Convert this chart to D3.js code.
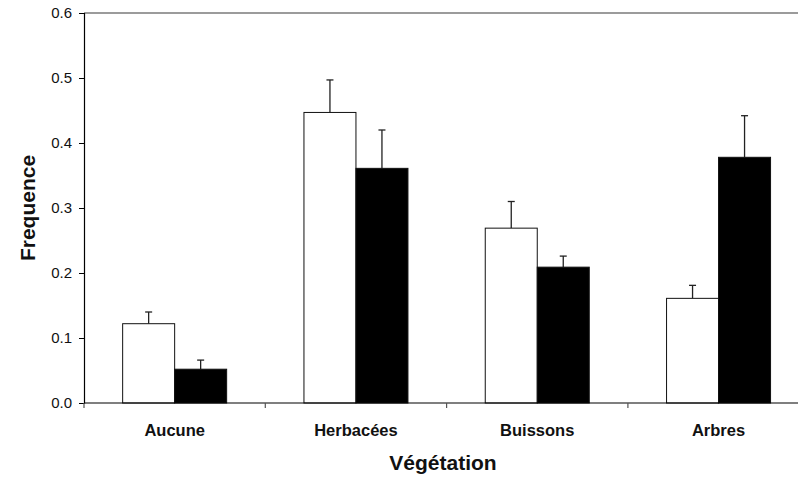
<!DOCTYPE html>
<html>
<head>
<meta charset="utf-8">
<script src="https://cdn.jsdelivr.net/npm/d3@7/dist/d3.min.js"></script>
<style>
  html, body { margin: 0; padding: 0; background: #fff; }
  svg { display: block; font-family: "Liberation Sans", Arial, sans-serif; }
</style>
</head>
<body>
<svg id="chart" width="798" height="481"></svg>
<script>
// Vegetation categories and the two series (means with standard errors)
const categories = ["Aucune", "Herbacées", "Buissons", "Arbres"];
const seriesWhite = [0.122, 0.447, 0.269, 0.161];
const errorWhite  = [0.018, 0.050, 0.041, 0.020];
const seriesBlack = [0.052, 0.361, 0.209, 0.378];
const errorBlack  = [0.014, 0.059, 0.017, 0.064];
const yTicks = [0.0, 0.1, 0.2, 0.3, 0.4, 0.5, 0.6];

const svg = d3.select("#chart");
const plotLeft = 84, plotTop = 13, plotBottom = 403;
const bandW = 181.3;
const plotRight = plotLeft + bandW * categories.length;

const x = d3.scaleBand().domain(categories).range([plotLeft, plotRight]).paddingInner(0).paddingOuter(0);
const y = d3.scaleLinear().domain([0, 0.6]).range([plotBottom, plotTop]);

const series = [
  { values: seriesWhite, errors: errorWhite, fill: "#fff" },
  { values: seriesBlack, errors: errorBlack, fill: "#000" }
];
const barW = 52;

const data = [];
categories.forEach((c, i) => {
  series.forEach((s, j) => {
    data.push({ cat: c, v: s.values[i], e: s.errors[i], fill: s.fill, j });
  });
});
const barX = d => x(d.cat) + x.bandwidth() / 2 - barW + d.j * barW;

// Error bars (upper only) drawn first so bars sit on top
const err = svg.append("g").attr("stroke", "#222").attr("stroke-width", 1.3);
data.forEach(d => {
  const cx = barX(d) + barW / 2;
  err.append("line").attr("x1", cx).attr("x2", cx).attr("y1", y(d.v)).attr("y2", y(d.v + d.e));
  err.append("line").attr("x1", cx - 3.5).attr("x2", cx + 3.5).attr("y1", y(d.v + d.e)).attr("y2", y(d.v + d.e));
});

// Bars
svg.append("g").selectAll("rect").data(data).join("rect")
  .attr("x", d => barX(d))
  .attr("y", d => y(d.v))
  .attr("width", barW)
  .attr("height", d => y(0) - y(d.v))
  .attr("fill", d => d.fill)
  .attr("stroke", "#111")
  .attr("stroke-width", 1);

// Top frame line
svg.append("line").attr("x1", plotLeft).attr("x2", 798).attr("y1", y(0.6)).attr("y2", y(0.6))
  .attr("stroke", "#7a7a7a").attr("stroke-width", 1.6);

// Y axis
const yAxis = d3.axisLeft(y).tickValues(yTicks).tickFormat(d3.format(".1f")).tickSize(5).tickPadding(7);
const gy = svg.append("g").attr("transform", `translate(${plotLeft},0)`).call(yAxis);
gy.select(".domain").attr("stroke", "#000").attr("stroke-width", 1.2);
gy.selectAll(".tick line").attr("stroke", "#000");
gy.selectAll(".tick text").attr("font-size", 15).attr("fill", "#111")
  .attr("font-family", "Liberation Sans, Arial, sans-serif");

// X axis: ticks at group boundaries, labels centered under each group
svg.append("line").attr("x1", plotLeft).attr("x2", plotRight).attr("y1", plotBottom).attr("y2", plotBottom)
  .attr("stroke", "#000").attr("stroke-width", 1.2);
const bounds = d3.range(categories.length + 1).map(i => plotLeft + i * x.bandwidth());
svg.append("g").selectAll("line").data(bounds).join("line")
  .attr("x1", d => d).attr("x2", d => d).attr("y1", plotBottom).attr("y2", plotBottom + 5)
  .attr("stroke", "#555").attr("stroke-width", 1.2);
svg.append("g").selectAll("text").data(categories).join("text")
  .attr("x", d => x(d) + x.bandwidth() / 2)
  .attr("y", 436)
  .attr("text-anchor", "middle")
  .attr("font-size", 16.5).attr("font-weight", "bold").attr("fill", "#111")
  .text(d => d);

// Axis titles
svg.append("text").attr("x", 443).attr("y", 470).attr("text-anchor", "middle")
  .attr("font-size", 21).attr("font-weight", "bold").attr("fill", "#111").text("Végétation");
svg.append("text").attr("transform", `translate(35,${(plotTop + plotBottom) / 2}) rotate(-90)`)
  .attr("text-anchor", "middle")
  .attr("font-size", 21).attr("font-weight", "bold").attr("fill", "#111").text("Frequence");
</script>
</body>
</html>
